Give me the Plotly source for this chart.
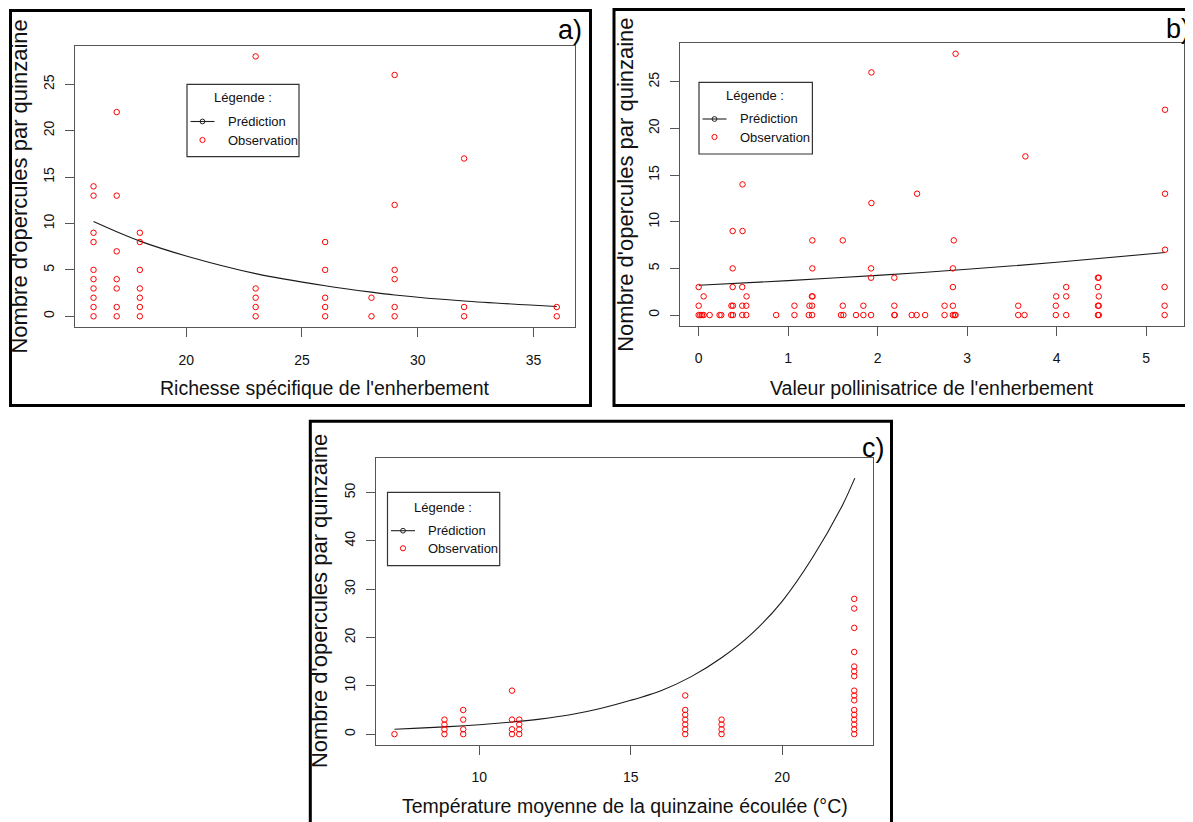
import plotly.graph_objects as go

# ---------------- data ----------------
# Panel a: Richesse spécifique de l'enherbement
a_obs_x = [16, 16, 16, 16, 16, 16, 16, 16, 16, 16,
           17, 17, 17, 17, 17, 17, 17,
           18, 18, 18, 18, 18, 18, 18,
           23, 23, 23, 23, 23,
           26, 26, 26, 26, 26,
           28, 28,
           29, 29, 29, 29, 29, 29,
           32, 32, 32,
           36, 36]
a_obs_y = [0, 1, 2, 3, 4, 5, 8, 9, 13, 14,
           0, 1, 3, 4, 7, 13, 22,
           0, 1, 2, 3, 5, 8, 9,
           0, 1, 2, 3, 28,
           0, 1, 2, 5, 8,
           0, 2,
           0, 1, 4, 5, 12, 26,
           0, 1, 17,
           0, 1]
a_pred_x = [16, 17, 18, 20, 23, 26, 28, 29, 32, 36]
a_pred_y = [10.2, 9.1, 8.1, 6.5, 4.6, 3.3, 2.6, 2.3, 1.65, 1.05]
a_xticks = [20, 25, 30, 35]
a_yticks = [0, 5, 10, 15, 20, 25]

# Panel b: Valeur pollinisatrice de l'enherbement
b_obs_x = [0, 0.019, 0.037, 0.056, 0.123, 0.234, 0.253, 0.364, 0.383, 0.487, 0.532, 0.866,
           1.07, 1.23, 1.268, 1.59, 1.617, 1.758, 1.84, 1.926, 2.186, 2.19, 2.38, 2.435,
           2.53, 2.747, 2.84, 2.86, 2.87, 3.57, 3.64, 3.99, 4.106, 4.46, 4.47, 5.205,
           0, 0.366, 0.383, 0.487, 0.532, 1.07, 1.238, 1.268, 1.61, 1.84, 2.186, 2.747,
           2.84, 3.57, 3.99, 4.46, 4.47, 5.205,
           0.056, 0.535, 1.265, 1.272, 3.994, 4.106, 4.47,
           0, 0.38, 0.487, 2.84, 4.106, 4.46, 5.205,
           1.926, 2.186, 4.46, 4.47,
           0.38, 1.27, 1.926, 2.84,
           5.21,
           1.27, 1.61, 2.85,
           0.38, 0.49,
           1.93,
           2.44, 5.21,
           0.49,
           3.65,
           5.21,
           1.93,
           2.87]
b_obs_y = [0] * 36 + [1] * 18 + [2] * 7 + [3] * 7 + [4] * 4 + [5] * 4 + \
          [7] + [8] * 3 + [9] * 2 + [12] + [13] * 2 + [14] + [17] + [22] + [26] + [28]
b_pred_x = [0, 1, 2, 3, 4, 5.21]
b_pred_y = [3.2, 3.69, 4.25, 4.9, 5.65, 6.7]
b_xticks = [0, 1, 2, 3, 4, 5]
b_yticks = [0, 5, 10, 15, 20, 25]

# Panel c: Température moyenne de la quinzaine écoulée
c_obs_x = [7.2,
           8.85, 8.85, 8.85, 8.85,
           9.47, 9.47, 9.47, 9.47,
           11.08, 11.08, 11.08, 11.08,
           11.32, 11.32, 11.32, 11.32,
           16.8, 16.8, 16.8, 16.8, 16.8, 16.8, 16.8,
           18.0, 18.0, 18.0, 18.0,
           22.38, 22.38, 22.38, 22.38, 22.38, 22.38, 22.38, 22.38,
           22.38, 22.38, 22.38, 22.38, 22.38, 22.38, 22.38, 22.38]
c_obs_y = [0,
           0, 1, 2, 3,
           0, 1, 3, 5,
           0, 1, 3, 9,
           0, 1, 2, 3,
           0, 1, 2, 3, 4, 5, 8,
           0, 1, 2, 3,
           0, 1, 2, 3, 4, 5, 7, 8,
           9, 12, 13, 14, 17, 22, 26, 28]
c_pred_x = [7.2, 8, 9, 10, 11, 12, 13, 14, 15, 16, 17, 18, 19, 20, 21, 22, 22.4]
c_pred_y = [1.0, 1.25, 1.55, 1.95, 2.45, 3.1, 4.0, 5.3, 7.0, 9.0, 11.9, 15.8, 20.8,
            27.5, 36.5, 47.5, 53.0]
c_xticks = [10, 15, 20]
c_yticks = [0, 10, 20, 30, 40, 50]

y_title = "Nombre d'opercules par quinzaine"
legend_title = "Légende :"
legend_labels = ["Prédiction", "Observation"]

# ---------------- layout helpers ----------------
W, H = 1193, 822
OFF = 8  # page body margin offset
FW, FH = W - OFF, H - OFF
NARROW = "Liberation Sans Narrow, Arial Narrow, Liberation Sans, Arial, sans-serif"
REG = "Liberation Sans, Arial, sans-serif"


def fx(p):
    return (p - OFF) / FW


def fy(p):
    return 1 - (p - OFF) / FH


fig = go.Figure()

panels = [
    dict(ax="", ox=a_obs_x, oy=a_obs_y, px_=a_pred_x, py_=a_pred_y,
         xr=[15.2, 36.8], yr=[-1.12, 29.12], xt=a_xticks, yt=a_yticks,
         box=(75, 575.3, 46, 326.7)),
    dict(ax="2", ox=b_obs_x, oy=b_obs_y, px_=b_pred_x, py_=b_pred_y,
         xr=[-0.2084, 5.4184], yr=[-1.12, 29.12], xt=b_xticks, yt=b_yticks,
         box=(680, 1183.7, 43.3, 325.5)),
    dict(ax="3", ox=c_obs_x, oy=c_obs_y, px_=c_pred_x, py_=c_pred_y,
         xr=[6.59, 23.01], yr=[-2.15, 57.27], xt=c_xticks, yt=c_yticks,
         box=(376, 873.3, 457.5, 744.5)),
]

for p in panels:
    xa = "x" + p["ax"]
    ya = "y" + p["ax"]
    fig.add_trace(go.Scatter(x=p["px_"], y=p["py_"], mode="lines",
                             line=dict(color="#1a1a1a", width=1.1, shape="spline",
                                       smoothing=0.8),
                             xaxis=xa, yaxis=ya, hoverinfo="skip"))
    fig.add_trace(go.Scatter(x=p["ox"], y=p["oy"], mode="markers",
                             marker=dict(symbol="circle-open", size=5.5,
                                         color="#ff0000", line=dict(width=1)),
                             xaxis=xa, yaxis=ya, hoverinfo="skip"))
    l, r, t, b = p["box"]
    axis_common = dict(showgrid=False, zeroline=False, showline=True, mirror=True,
                       linecolor="#555555", linewidth=1, ticks="outside", ticklen=9,
                       tickcolor="#555555", tickwidth=1)
    fig.update_layout(**{
        "xaxis" + p["ax"]: dict(domain=[fx(l), fx(r)], range=p["xr"],
                                tickvals=p["xt"], anchor=ya,
                                tickfont=dict(family=NARROW, size=14, color="#111"),
                                ticklabelstandoff=11, **axis_common),
        "yaxis" + p["ax"]: dict(domain=[fy(b), fy(t)], range=p["yr"],
                                tickvals=p["yt"], anchor=xa, tickangle=-90,
                                tickfont=dict(family=REG, size=14, color="#111"),
                                ticklabelstandoff=5, **axis_common),
    })

annotations = []
shapes = []

# axis titles
xtitles = [("Richesse spécifique de l'enherbement", 325, 388),
           ("Valeur pollinisatrice de l'enherbement", 932, 388),
           ("Température moyenne de la quinzaine écoulée (°C)", 624.5, 806.4)]
for txt, cx, cy in xtitles:
    annotations.append(dict(text=txt, x=fx(cx), y=fy(cy), xref="paper", yref="paper",
                            showarrow=False, xanchor="center", yanchor="middle",
                            font=dict(family=NARROW, size=19.5, color="#111")))
ytitles = [(19.3, 186.3), (625.4, 184.4), (319.1, 601)]
for cx, cy in ytitles:
    annotations.append(dict(text=y_title, x=fx(cx), y=fy(cy), xref="paper", yref="paper",
                            showarrow=False, xanchor="center", yanchor="middle",
                            textangle=-90,
                            font=dict(family=REG, size=22, color="#111")))

# panel labels
for txt, cx, cy in [("a)", 570, 30), ("b)", 1178, 29), ("c)", 873, 448)]:
    annotations.append(dict(text=txt, x=fx(cx), y=fy(cy), xref="paper", yref="paper",
                            showarrow=False, xanchor="center", yanchor="middle",
                            font=dict(family=REG, size=27, color="#000")))

# panel frames
frames = [(10.5, 590.5, 10.5, 405.5), (614, 1200, 9.5, 405.5), (310.3, 891.5, 421.2, 830)]
for l, r, t, b in frames:
    shapes.append(dict(type="rect", xref="paper", yref="paper",
                       x0=fx(l), x1=fx(r), y0=fy(b), y1=fy(t),
                       line=dict(color="#000", width=3)))

# legends (left, top, width, title dy, pred dy, obs dy, height)
legends = [(187, 84.3, 112, 13.7, 37.2, 55.7, 72.3),
           (699, 82.3, 113.4, 13.5, 36.7, 54.7, 71.7),
           (387.5, 492.3, 112.2, 15.0, 38.4, 56.0, 73.4)]


def circle(cx, cy, r, color):
    return dict(type="circle", xref="paper", yref="paper",
                x0=fx(cx - r), x1=fx(cx + r), y0=fy(cy + r), y1=fy(cy - r),
                line=dict(color=color, width=1))


for l, t, w, dt, dp, do, h in legends:
    shapes.append(dict(type="rect", xref="paper", yref="paper",
                       x0=fx(l), x1=fx(l + w), y0=fy(t + h), y1=fy(t),
                       line=dict(color="#333", width=1.2), fillcolor="white"))
    annotations.append(dict(text=legend_title, x=fx(l + 55.5), y=fy(t + dt),
                            xref="paper", yref="paper", showarrow=False,
                            xanchor="center", yanchor="middle",
                            font=dict(family=NARROW, size=13, color="#111")))
    # prediction symbol: line with small circle
    shapes.append(dict(type="line", xref="paper", yref="paper",
                       x0=fx(l + 3.5), x1=fx(l + 27.5), y0=fy(t + dp), y1=fy(t + dp),
                       line=dict(color="#222", width=1.1)))
    shapes.append(circle(l + 15.5, t + dp, 2.4, "#222"))
    shapes.append(circle(l + 15.5, t + do, 2.6, "#ff0000"))
    for txt, dy in zip(legend_labels, [dp, do]):
        annotations.append(dict(text=txt, x=fx(l + 38.5), y=fy(t + dy),
                                xref="paper", yref="paper", showarrow=False,
                                xanchor="left", yanchor="middle",
                                font=dict(family=NARROW, size=13, color="#111")))

fig.update_layout(width=FW, height=FH, margin=dict(l=0, r=0, t=0, b=0),
                  paper_bgcolor="white", plot_bgcolor="white", showlegend=False,
                  annotations=annotations, shapes=shapes)

fig.write_html("out.html")
